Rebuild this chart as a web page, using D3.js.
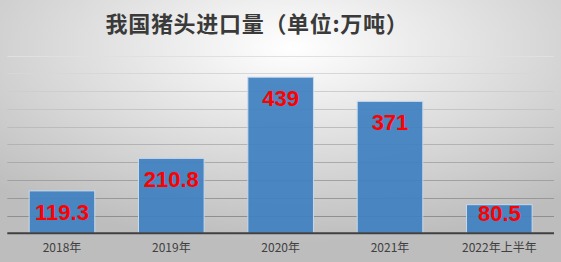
<!DOCTYPE html>
<html>
<head>
<meta charset="UTF-8">
<title>我国猪头进口量</title>
<script src="https://cdnjs.cloudflare.com/ajax/libs/d3/7.8.5/d3.min.js"></script>
<style>
  html, body { margin: 0; padding: 0; overflow: hidden; }
  svg { display: block; }
</style>
</head>
<body>
<div id="chart"></div>
<script>
// data
var categories = ["2018年", "2019年", "2020年", "2021年", "2022年上半年"];
var values = [119.3, 210.8, 439, 371, 80.5];
var valueLabels = ["119.3", "210.8", "439", "371", "80.5"];
var gridTicks = [50, 100, 150, 200, 250, 300, 350, 400, 450, 500];
var title = "我国猪头进口量（单位:万吨）";

var w = 561,
    h = 262,
    plotLeft = 7.3,
    plotRight = 554,
    plotTop = 55.5,
    plotBottom = 233.3;

var svg = d3.select("#chart").append("svg")
    .attr("width", w)
    .attr("height", h);

var defs = svg.append("defs");
var bg = defs.append("radialGradient")
    .attr("id", "bg")
    .attr("cx", "52%").attr("cy", "18%")
    .attr("r", "75%");
bg.append("stop").attr("offset", "0%").attr("stop-color", "#ffffff");
bg.append("stop").attr("offset", "100%").attr("stop-color", "#bdbdbd");

svg.append("rect")
    .attr("width", w).attr("height", h)
    .attr("fill", "url(#bg)");

var x = d3.scaleBand()
    .domain(categories)
    .range([plotLeft, plotRight])
    .paddingInner(0.4)
    .paddingOuter(0.2);

var y = d3.scaleLinear()
    .domain([0, 500])
    .range([plotBottom, plotTop]);

var gridColor = d3.scaleLinear()
    .domain([500, 50])
    .range(["#e0e0e0", "#8f8f8f"]);

// gridlines
svg.append("g").selectAll("line")
    .data(gridTicks)
    .enter().append("line")
    .attr("x1", plotLeft).attr("x2", plotRight)
    .attr("y1", d => Math.round(y(d)) + 0.5)
    .attr("y2", d => Math.round(y(d)) + 0.5)
    .attr("stroke", d => gridColor(d))
    .attr("stroke-width", 1);

// bars
svg.append("g").selectAll("rect")
    .data(values)
    .enter().append("rect")
    .attr("x", (d, i) => x(categories[i]))
    .attr("y", d => y(d))
    .attr("width", x.bandwidth())
    .attr("height", d => plotBottom - y(d))
    .attr("fill", "#4080bf")
    .attr("fill-opacity", 0.93)
    .attr("stroke", "#c9d9ec")
    .attr("stroke-width", 1);

// value labels
svg.append("g").selectAll("text")
    .data(values)
    .enter().append("text")
    .attr("x", (d, i) => x(categories[i]) + x.bandwidth() / 2)
    .attr("y", d => Math.min(y(d) + 21, plotBottom - 20) + 8)
    .attr("text-anchor", "middle")
    .attr("font-family", "'Liberation Sans', Arial, sans-serif")
    .attr("font-weight", "bold")
    .attr("font-size", "22px")
    .attr("fill", "#ff0000")
    .text((d, i) => valueLabels[i]);

// axis baseline
svg.append("line")
    .attr("x1", plotLeft).attr("x2", plotRight)
    .attr("y1", plotBottom).attr("y2", plotBottom)
    .attr("stroke", "#404040")
    .attr("stroke-width", 2);

// category labels
var xAxis = d3.axisBottom(x).tickSize(0).tickPadding(10);
var gx = svg.append("g")
    .attr("transform", "translate(0," + plotBottom + ")")
    .call(xAxis);
gx.select(".domain").remove();
gx.selectAll("text")
    .attr("font-family", "'Noto Sans CJK SC', sans-serif")
    .attr("font-size", "12px")
    .attr("fill", "#404040");

// title
svg.append("text")
    .attr("x", 257)
    .attr("y", 32)
    .attr("text-anchor", "middle")
    .attr("font-family", "'Noto Sans CJK SC', sans-serif")
    .attr("font-weight", "600")
    .attr("font-size", "22px")
    .attr("letter-spacing", "0.7px")
    .attr("fill", "#3a3a3a")
    .text(title);
</script>
</body>
</html>
